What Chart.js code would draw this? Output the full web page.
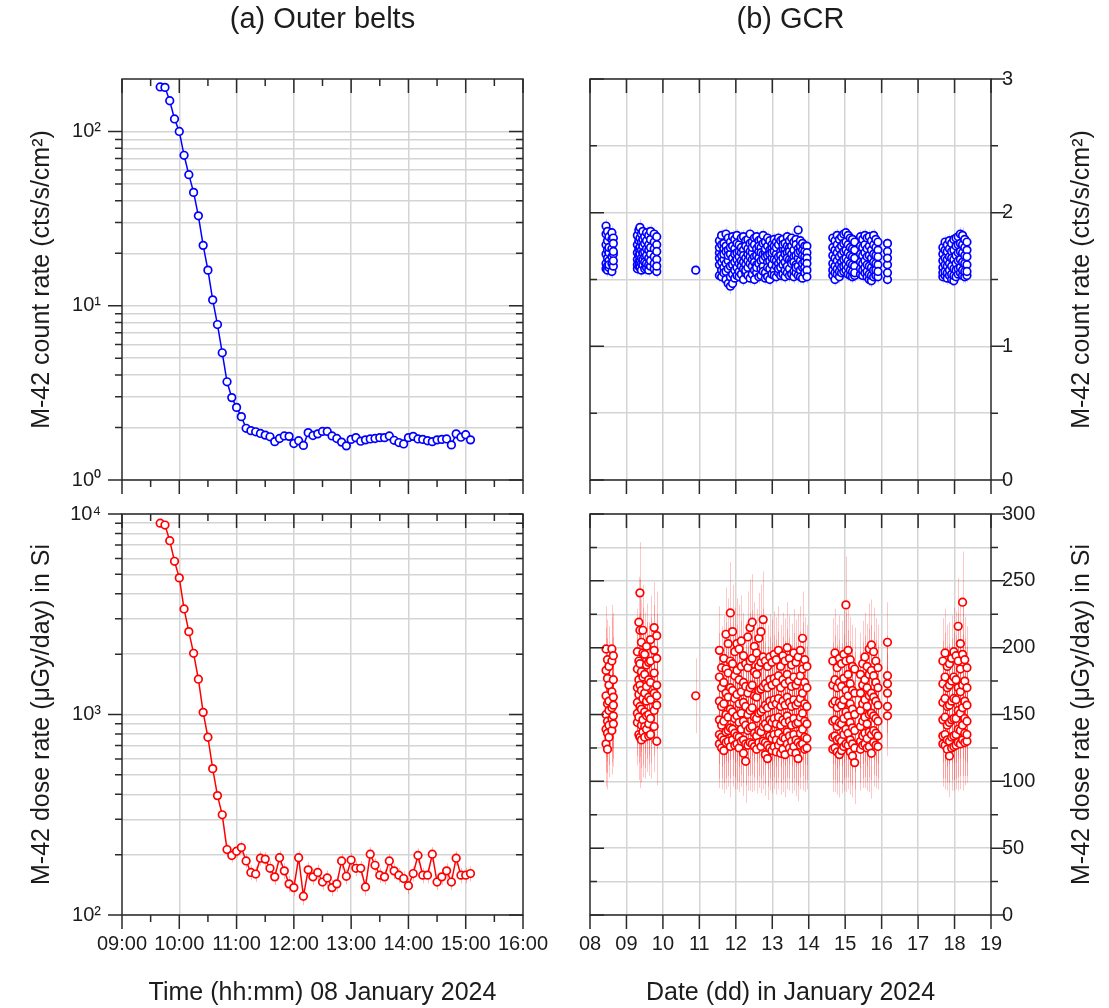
<!DOCTYPE html>
<html><head><meta charset="utf-8">
<script src="https://cdn.jsdelivr.net/npm/chart.js@4.4.1/dist/chart.umd.min.js"></script>
<style>
html,body{margin:0;padding:0;background:#fff;}
body{width:1109px;height:1008px;position:relative;overflow:hidden;}
canvas{position:absolute;}
</style></head><body>
<canvas id="tl" width="556" height="497" style="left:0px;top:0px"></canvas>
<canvas id="bl" width="556" height="511" style="left:0px;top:497px"></canvas>
<canvas id="tr" width="553" height="497" style="left:556px;top:0px"></canvas>
<canvas id="br" width="553" height="511" style="left:556px;top:497px"></canvas>
<script>
// ---------------- data: (a) outer belts, 08 January 2024 ----------------
const outerTimes = ['09:40','09:45','09:50','09:55','10:00','10:05','10:10','10:15','10:20','10:25','10:30','10:35','10:40','10:45','10:50','10:55','11:00',
'11:05','11:10','11:15','11:20','11:25','11:30','11:35','11:40','11:45','11:50','11:55','12:00','12:05','12:10','12:15','12:20','12:25','12:30','12:35','12:40','12:45','12:50','12:55',
'13:00','13:05','13:10','13:15','13:20','13:25','13:30','13:35','13:40','13:45','13:50','13:55','14:00','14:05','14:10','14:15','14:20','14:25','14:30','14:35','14:40','14:45','14:50','14:55','15:00','15:05'];
const outerCount = [180,179,150,118,100,73,56.5,44.7,32.8,22.2,16.0,10.8,7.8,5.37,3.66,2.97,2.61,
2.31,1.98,1.92,1.89,1.85,1.81,1.77,1.66,1.73,1.79,1.78,1.62,1.68,1.58,1.87,1.80,1.84,1.90,1.90,1.79,1.73,1.65,1.57,
1.71,1.75,1.67,1.70,1.72,1.73,1.75,1.75,1.79,1.69,1.64,1.61,1.75,1.78,1.72,1.71,1.68,1.66,1.70,1.71,1.72,1.59,1.84,1.76,1.82,1.70];
const outerDose = [9000,8810,7360,5810,4800,3360,2590,2020,1500,1025,770,537,394,316,212,198,208,
217,186,163,160,192,190,171,155,193,166,143,137,193,124,168,155,163,146,153,137,143,186,156,
188,171,171,138,201,177,158,155,186,166,158,152,140,161,198,158,158,201,146,155,166,146,192,158,158,161];
const outerDoseErr = [90,90,75,60,50,35,27,21,16,11,9,7,6,6,14,15,15,
16,15,14,14,16,16,15,14,16,15,13,13,16,12,15,14,15,13,14,13,13,16,14,
16,15,15,13,17,15,14,14,16,15,14,14,13,14,17,14,14,17,13,14,15,13,16,14,14,14];

// ---------------- data: (b) GCR, January 2024 (one row per pass) ----------------
const gcrPassDay = [
8.44,8.48,8.52,8.60,8.64,
9.30,9.34,9.37,9.41,9.45,9.50,9.55,9.61,9.66,9.76,9.83,
10.90,
11.55,11.61,11.67,11.73,11.79,11.85,11.91,11.97,12.03,12.09,12.15,12.21,12.27,12.33,12.39,12.45,12.51,12.57,12.63,12.69,12.75,
12.81,12.87,12.93,12.99,13.05,13.11,13.17,13.23,13.29,13.35,13.41,13.47,13.53,13.59,13.65,13.71,13.77,13.83,13.89,13.95,
14.66,14.72,14.78,14.84,14.90,14.96,15.02,15.08,15.14,15.20,15.26,
15.42,15.48,15.54,15.60,15.66,15.72,15.78,15.84,15.90,
16.16,
17.68,17.74,17.80,17.86,17.92,17.98,18.04,18.10,18.16,18.22,18.28,18.34];
const gcrCount = [
[1.90,1.76,1.84,1.62,1.69,1.58],[1.86,1.72,1.79,1.60,1.66,1.57],[1.82,1.70,1.74,1.59,1.64,1.61],[1.85,1.73,1.80,1.56,1.67,1.62],[1.81,1.69,1.77,1.60,1.71,1.64],
[1.83,1.65,1.76,1.58,1.70,1.61],[1.87,1.68,1.79,1.60,1.73,1.63],[1.89,1.69,1.81,1.59,1.74,1.64],[1.84,1.66,1.78,1.57,1.72,1.62],[1.86,1.70,1.80,1.61,1.75,1.65],
[1.82,1.67,1.77,1.58,1.71,1.63],[1.85,1.68,1.79,1.59,1.73,1.62],[1.83,1.66,1.76,1.57,1.72,1.61],[1.86,1.69,1.80,1.60,1.74,1.64],[1.84,1.67,1.78,1.58,1.73,1.62],
[1.82,1.65,1.76,1.56,1.71,1.60],
[1.57],
[1.79,1.70,1.66,1.61,1.53,1.74],[1.83,1.68,1.63,1.57,1.52,1.76],[1.77,1.73,1.65,1.59,1.55,1.69],[1.84,1.75,1.62,1.56,1.50,1.71],[1.81,1.72,1.64,1.58,1.47,1.68],
[1.78,1.69,1.60,1.52,1.45,1.74],[1.82,1.66,1.61,1.54,1.47,1.75],[1.80,1.73,1.63,1.57,1.51,1.69],[1.83,1.77,1.70,1.59,1.53,1.65],[1.76,1.71,1.62,1.56,1.52,1.67],
[1.81,1.74,1.64,1.60,1.54,1.70],[1.82,1.72,1.68,1.58,1.50,1.63],[1.79,1.75,1.66,1.61,1.55,1.57],[1.80,1.69,1.64,1.59,1.53,1.73],[1.84,1.77,1.71,1.62,1.51,1.67],
[1.78,1.70,1.65,1.60,1.54,1.74],[1.81,1.76,1.67,1.57,1.50,1.63],[1.82,1.73,1.68,1.61,1.55,1.59],[1.79,1.71,1.66,1.62,1.52,1.75],[1.80,1.74,1.64,1.58,1.53,1.70],
[1.83,1.77,1.69,1.60,1.56,1.65],[1.78,1.70,1.67,1.55,1.51,1.73],[1.81,1.75,1.63,1.59,1.52,1.68],[1.79,1.72,1.69,1.64,1.50,1.58],[1.76,1.73,1.66,1.61,1.54,1.70],
[1.80,1.75,1.65,1.57,1.53,1.71],[1.78,1.69,1.64,1.60,1.52,1.74],[1.81,1.76,1.67,1.62,1.55,1.58],[1.79,1.71,1.68,1.59,1.53,1.64],[1.80,1.73,1.66,1.61,1.54,1.76],
[1.77,1.72,1.63,1.57,1.52,1.69],[1.82,1.75,1.70,1.60,1.55,1.66],[1.79,1.74,1.65,1.58,1.53,1.71],[1.81,1.69,1.64,1.62,1.54,1.75],[1.78,1.72,1.67,1.56,1.52,1.63],
[1.80,1.76,1.68,1.61,1.55,1.59],[1.87,1.73,1.66,1.60,1.53,1.70],[1.79,1.71,1.64,1.57,1.52,1.75],[1.77,1.72,1.68,1.59,1.51,1.62],[1.75,1.71,1.67,1.63,1.59,1.55],
[1.75,1.70,1.66,1.62,1.57,1.52],
[1.81,1.62,1.74,1.53,1.68,1.57],[1.79,1.60,1.72,1.50,1.66,1.55],[1.83,1.64,1.76,1.54,1.70,1.58],[1.80,1.61,1.73,1.52,1.67,1.56],[1.82,1.63,1.75,1.55,1.69,1.59],
[1.84,1.65,1.77,1.56,1.71,1.60],[1.85,1.66,1.78,1.57,1.72,1.61],[1.83,1.64,1.76,1.54,1.70,1.59],[1.81,1.62,1.74,1.53,1.68,1.57],[1.80,1.61,1.73,1.52,1.67,1.56],
[1.78,1.60,1.72,1.53,1.66,1.55],
[1.82,1.63,1.75,1.54,1.69,1.58],[1.80,1.62,1.74,1.53,1.68,1.57],[1.83,1.64,1.76,1.55,1.70,1.59],[1.81,1.61,1.73,1.52,1.67,1.56],[1.82,1.60,1.75,1.50,1.68,1.54],
[1.79,1.59,1.72,1.49,1.66,1.53],[1.83,1.63,1.76,1.52,1.69,1.57],[1.80,1.62,1.74,1.53,1.68,1.57],[1.78,1.61,1.72,1.52,1.67,1.56],
[1.77,1.61,1.71,1.50,1.66,1.55],
[1.74,1.59,1.69,1.52,1.64,1.55],[1.78,1.61,1.72,1.53,1.66,1.56],[1.76,1.60,1.71,1.51,1.65,1.55],[1.79,1.62,1.73,1.53,1.67,1.57],[1.77,1.60,1.71,1.50,1.66,1.54],
[1.80,1.58,1.72,1.49,1.65,1.53],[1.81,1.62,1.75,1.52,1.68,1.57],[1.82,1.64,1.76,1.54,1.70,1.58],[1.84,1.65,1.77,1.55,1.71,1.59],[1.83,1.63,1.76,1.53,1.70,1.57],
[1.80,1.62,1.74,1.52,1.68,1.56],[1.78,1.61,1.72,1.53,1.67,1.56]];
const gcrDose = [
[183,150,199,128,164,139],[191,145,177,124,158,136],[186,153,172,133,160,142],[199,155,190,138,167,147],[194,149,176,143,163,157],
[197,159,184,144,170,151],[219,165,190,135,176,148],[241,172,213,133,188,156],[204,154,182,131,168,142],[213,162,196,137,178,146],
[195,152,180,133,166,141],[201,160,187,139,171,149],[189,150,176,134,163,143],[206,161,190,135,174,147],[215,166,198,141,181,153],
[209,164,192,130,172,157],
[164],
[198,146,178,128,160,135],[185,142,170,125,156,133],[192,145,174,123,158,131],[210,150,184,129,166,137],[203,148,181,130,163,138],
[226,154,190,126,170,140],[212,152,188,131,168,139],[197,147,179,127,162,136],[203,149,183,128,165,134],[199,144,176,125,158,133],
[205,151,186,130,167,139],[194,145,174,121,159,131],[188,142,171,115,156,128],[208,150,185,127,166,138],[215,153,190,129,170,140],
[219,155,192,128,172,141],[201,148,182,126,164,136],[196,147,180,124,163,134],[207,151,186,129,168,138],[212,152,189,126,169,137],
[221,154,193,130,171,141],[190,143,173,120,157,129],[186,140,170,117,155,127],[193,146,176,125,160,134],[189,144,172,123,157,132],
[195,147,177,126,161,135],[191,143,174,122,158,131],[198,148,179,127,162,136],[186,142,170,121,156,130],[194,146,176,124,160,133],
[190,144,173,120,157,132],[200,149,180,128,163,137],[192,145,175,125,159,134],[187,142,171,122,156,130],[196,147,178,126,161,135],
[189,143,172,121,157,131],[193,144,175,117,159,129],[198,148,179,127,162,136],[207,151,184,128,166,139],[191,145,174,124,158,133],
[186,143,170,125,156,132],
[190,145,172,124,158,133],[196,146,176,125,160,134],[185,141,170,122,155,131],[192,144,174,120,159,132],[188,143,171,123,157,130],
[195,147,177,126,161,135],[232,152,190,128,168,139],[198,149,180,127,164,136],[191,144,173,122,158,131],[186,140,168,119,154,128],
[184,138,166,114,150,125],
[180,141,166,124,153,130],[188,145,172,127,158,134],[193,148,176,128,161,136],[186,143,170,125,156,132],[199,150,180,126,164,137],
[202,151,183,121,166,135],[197,149,179,129,163,138],[190,147,174,127,160,136],[185,145,170,126,157,134],
[204,156,179,149,173,166],
[190,146,173,128,159,134],[196,148,178,127,162,135],[186,142,170,124,156,131],[188,144,172,119,157,130],[192,146,175,125,160,133],
[197,147,178,126,162,134],[194,147,176,127,161,135],[216,153,190,129,170,139],[203,151,184,128,167,138],[234,155,195,131,172,142],
[191,147,175,129,160,136],[185,145,170,130,157,135]];
const gcrPassCountErr = [
0.05,0.05,0.05,0.05,0.05,
0.05,0.05,0.06,0.05,0.05,0.05,0.05,0.05,0.05,0.05,0.05,
0.04,
0.05,0.05,0.05,0.05,0.05,0.06,0.05,0.05,0.05,0.05,0.05,0.05,0.05,0.05,0.05,0.05,0.05,0.05,0.05,0.05,0.05,
0.05,0.05,0.05,0.05,0.05,0.05,0.05,0.05,0.05,0.05,0.05,0.05,0.05,0.05,0.05,0.06,0.05,0.05,0.05,0.05,
0.05,0.05,0.05,0.05,0.05,0.05,0.06,0.05,0.05,0.05,0.05,
0.05,0.05,0.05,0.05,0.05,0.05,0.05,0.05,0.05,
0.04,
0.05,0.05,0.05,0.05,0.05,0.05,0.05,0.05,0.05,0.06,0.05,0.05];
const gcrPassDoseErr = [
32,30,30,33,32,
32,34,38,32,34,31,32,30,33,34,33,
28,
33,31,32,35,34,38,35,33,34,33,34,32,31,34,36,36,33,33,34,35,36,
31,31,32,32,32,32,33,31,32,32,34,32,31,33,32,32,33,35,32,31,
32,33,32,32,32,33,36,33,32,31,31,
31,32,33,32,34,34,33,32,32,
30,
32,33,31,31,32,33,33,36,34,38,32,31];

// ---------------- ticks and labels ----------------
const outerHourTicks = [9,9.5,10,10.5,11,11.5,12,12.5,13,13.5,14,14.5,15,15.5,16];
const outerHourLabels = ['09:00','10:00','11:00','12:00','13:00','14:00','15:00','16:00'];
const countLogTicks = [1,2,3,4,5,6,7,8,9,10,20,30,40,50,60,70,80,90,100];
const doseLogTicks = [100,200,300,400,500,600,700,800,900,1000,2000,3000,4000,5000,6000,7000,8000,9000,10000];
const gcrDayTicks = [8,9,10,11,12,13,14,15,16,17,18,19];
const gcrDayLabels = ['08','09','10','11','12','13','14','15','16','17','18','19'];
const gcrCountTicks = [0,0.5,1,1.5,2,2.5,3];
const gcrDoseTicks = [0,25,50,75,100,125,150,175,200,225,250,275,300];
const powerLabels = {0:'10\u2070',1:'10\u00B9',2:'10\u00B2',3:'10\u00B3',4:'10\u2074'};

// ---------------- style ----------------
const FONT = "'Liberation Sans', Arial, Helvetica, sans-serif";
const INK = '#1c1c1c';
const GRID = '#d4d4d4';
const FRAME = '#2a2a2a';
const BLUE = '#0000ff';
const RED = '#ff0000';
const TICKF = 20, TITLEF = 25, HEADF = 29;

const hm = s => { const p = s.split(':').map(Number); return p[0] + p[1] / 60; };
const isPow10 = v => Math.abs(Math.log10(v) - Math.round(Math.log10(v))) < 1e-9;
const isInt = v => Math.abs(v - Math.round(v)) < 1e-9;

// flatten passes into points
const gcrCountPts = [], gcrCountErrPts = [], gcrDosePts = [], gcrDoseErrPts = [];
gcrPassDay.forEach((d, i) => {
  gcrCount[i].forEach(v => { gcrCountPts.push({ x: d, y: v }); gcrCountErrPts.push(gcrPassCountErr[i]); });
  gcrDose[i].forEach(v => { gcrDosePts.push({ x: d, y: v }); gcrDoseErrPts.push(gcrPassDoseErr[i]); });
});

const panelCfg = {
  tl: { xMajor: isInt, yMajor: isPow10, left: 'out', right: 'in',
        texts: [{ text: '(a) Outer belts', x: 'c', y: 20, size: HEADF }] },
  bl: { xMajor: isInt, yMajor: isPow10, left: 'out', right: 'in',
        err: outerDoseErr, errColor: 'rgba(255,0,0,0.28)', texts: [] },
  tr: { xMajor: () => true, yMajor: isInt, left: 'in', right: 'out',
        err: gcrCountErrPts, errColor: 'rgba(0,0,255,0.18)',
        texts: [{ text: '(b) GCR', x: 'c', y: 20, size: HEADF },
                { text: 'M-42 count rate (cts/s/cm\u00B2)', x: 526, y: 'm', size: TITLEF, rot: true }] },
  br: { xMajor: () => true, yMajor: v => Math.abs(v % 50) < 1e-9, left: 'in', right: 'out',
        err: gcrDoseErrPts, errColor: 'rgba(255,0,0,0.22)',
        texts: [{ text: 'M-42 dose rate (\u03BCGy/day) in Si', x: 526, y: 'm', size: TITLEF, rot: true }] }
};

const panelDeco = {
  id: 'panelDeco',
  beforeDatasetsDraw(chart) {
    const cfg = panelCfg[chart.canvas.id];
    if (!cfg.err) return;
    const { ctx, chartArea: a, scales: { x, y } } = chart;
    const pts = chart.data.datasets[0].data;
    ctx.save();
    ctx.beginPath(); ctx.rect(a.left, a.top, a.right - a.left, a.bottom - a.top); ctx.clip();
    ctx.strokeStyle = cfg.errColor; ctx.lineWidth = 1;
    pts.forEach((p, i) => {
      const e = cfg.err[i];
      const px = Math.round(x.getPixelForValue(p.x)) + 0.5;
      ctx.beginPath();
      ctx.moveTo(px, y.getPixelForValue(p.y + e));
      ctx.lineTo(px, y.getPixelForValue(p.y - e));
      ctx.stroke();
    });
    ctx.restore();
  },
  afterDatasetsDraw(chart) {
    const cfg = panelCfg[chart.canvas.id];
    const { ctx, chartArea: a, scales: { x, y } } = chart;
    ctx.save();
    ctx.strokeStyle = FRAME; ctx.lineWidth = 1.5;
    ctx.strokeRect(a.left, a.top, a.right - a.left, a.bottom - a.top);
    ctx.beginPath();
    x.ticks.forEach(t => {
      const px = x.getPixelForValue(t.value);
      const len = cfg.xMajor(t.value) ? 14 : 7;
      ctx.moveTo(px, a.bottom); ctx.lineTo(px, a.bottom + len);
      ctx.moveTo(px, a.top); ctx.lineTo(px, a.top + len);
    });
    y.ticks.forEach(t => {
      const py = y.getPixelForValue(t.value);
      const len = cfg.yMajor(t.value) ? 14 : 7;
      if (cfg.left === 'out') { ctx.moveTo(a.left - len, py); ctx.lineTo(a.left, py); }
      else { ctx.moveTo(a.left, py); ctx.lineTo(a.left + len, py); }
      if (cfg.right === 'out') { ctx.moveTo(a.right, py); ctx.lineTo(a.right + len, py); }
      else { ctx.moveTo(a.right - len, py); ctx.lineTo(a.right, py); }
    });
    ctx.stroke();
    ctx.restore();
  },
  afterDraw(chart) {
    const cfg = panelCfg[chart.canvas.id];
    const { ctx, chartArea: a } = chart;
    cfg.texts.forEach(t => {
      ctx.save();
      ctx.fillStyle = INK;
      ctx.font = t.size + 'px ' + FONT;
      ctx.textAlign = 'center'; ctx.textBaseline = 'middle';
      const tx = t.x === 'c' ? (a.left + a.right) / 2 : t.x;
      const ty = t.y === 'm' ? (a.top + a.bottom) / 2 : t.y;
      ctx.translate(tx, ty);
      if (t.rot) ctx.rotate(-Math.PI / 2);
      ctx.fillText(t.text, 0, 0);
      ctx.restore();
    });
  }
};

const setTicks = list => s => { s.ticks = list.map(v => ({ value: v })); };
const noPad = s => { s.paddingTop = 0; s.paddingBottom = 0; s.paddingLeft = 0; s.paddingRight = 0; };
const tickFont = { family: FONT, size: TICKF };
const titleFont = { family: FONT, size: TITLEF };

function xAxis(min, max, list, labelFn, showLabels, height, title, gridFn) {
  return {
    type: 'linear', min, max,
    afterBuildTicks: setTicks(list),
    afterFit: s => { s.height = height; noPad(s); },
    border: { display: false },
    grid: { drawTicks: false, lineWidth: 1.5, color: c => gridFn(c.tick.value) ? GRID : 'rgba(0,0,0,0)' },
    ticks: { display: showLabels, autoSkip: false, maxRotation: 0, padding: 17, color: INK, font: tickFont, callback: labelFn },
    title: title ? { display: true, text: title, color: INK, font: titleFont, padding: { top: 0, bottom: 0 } } : { display: false }
  };
}

function yAxis(type, min, max, list, labelFn, position, width, pad, title) {
  return {
    type, min, max, position,
    afterBuildTicks: setTicks(list),
    afterFit: s => { s.width = width; noPad(s); },
    border: { display: false },
    grid: { drawTicks: false, lineWidth: 1.5, color: GRID },
    ticks: { autoSkip: false, padding: pad, color: INK, font: tickFont, callback: labelFn },
    title: title ? { display: true, text: title, color: INK, font: titleFont, padding: { top: 27, bottom: 0 } } : { display: false }
  };
}

const hourLabel = v => isInt(v) ? outerHourLabels[Math.round(v) - 9] : '';
const logLabel = v => isPow10(v) ? powerLabels[Math.round(Math.log10(v))] : '';
const dayLabel = v => gcrDayLabels[Math.round(v) - 8];
const innerHour = v => isInt(v) && v > 9 && v < 16;
const innerDay = v => v > 8 && v < 19;

const baseOpts = (padding, scales) => ({
  responsive: false, animation: false, devicePixelRatio: 1,
  layout: { padding },
  plugins: { legend: { display: false }, tooltip: { enabled: false } },
  scales
});

const pointStyle = color => ({
  borderColor: color, borderWidth: 1.5, pointRadius: 3.8, pointBorderWidth: 1.7,
  pointBackgroundColor: '#ffffff', pointBorderColor: color, tension: 0, fill: false
});

// (a) top: count rate
new Chart(document.getElementById('tl'), {
  type: 'line',
  data: { datasets: [Object.assign({ data: outerTimes.map((t, i) => ({ x: hm(t), y: outerCount[i] })) }, pointStyle(BLUE))] },
  options: baseOpts({ top: 79, right: 33, left: 0, bottom: 0 }, {
    x: xAxis(9, 16, outerHourTicks, hourLabel, false, 17, null, innerHour),
    y: yAxis('logarithmic', 1, 200, countLogTicks, logLabel, 'left', 122, 21, 'M-42 count rate (cts/s/cm\u00B2)')
  }),
  plugins: [panelDeco]
});

// (a) bottom: dose rate
new Chart(document.getElementById('bl'), {
  type: 'line',
  data: { datasets: [Object.assign({ data: outerTimes.map((t, i) => ({ x: hm(t), y: outerDose[i] })) }, pointStyle(RED))] },
  options: baseOpts({ top: 17, right: 33, left: 0, bottom: 0 }, {
    x: xAxis(9, 16, outerHourTicks, hourLabel, true, 93, 'Time (hh:mm) 08 January 2024', innerHour),
    y: yAxis('logarithmic', 100, 10000, doseLogTicks, logLabel, 'left', 122, 21, 'M-42 dose rate (\u03BCGy/day) in Si')
  }),
  plugins: [panelDeco]
});

// (b) top: GCR count rate
new Chart(document.getElementById('tr'), {
  type: 'scatter',
  data: { datasets: [Object.assign({ showLine: false, data: gcrCountPts }, pointStyle(BLUE))] },
  options: baseOpts({ top: 79, right: 0, left: 34, bottom: 0 }, {
    x: xAxis(8, 19, gcrDayTicks, dayLabel, false, 17, null, innerDay),
    y: yAxis('linear', 0, 3, gcrCountTicks, v => isInt(v) ? String(Math.round(v)) : '', 'right', 118, 11, null)
  }),
  plugins: [panelDeco]
});

// (b) bottom: GCR dose rate
new Chart(document.getElementById('br'), {
  type: 'scatter',
  data: { datasets: [Object.assign({ showLine: false, data: gcrDosePts }, pointStyle(RED))] },
  options: baseOpts({ top: 17, right: 0, left: 34, bottom: 0 }, {
    x: xAxis(8, 19, gcrDayTicks, dayLabel, true, 93, 'Date (dd) in January 2024', innerDay),
    y: yAxis('linear', 0, 300, gcrDoseTicks, v => Math.abs(v % 50) < 1e-9 ? String(v) : '', 'right', 118, 11, null)
  }),
  plugins: [panelDeco]
});
</script>
</body></html>
